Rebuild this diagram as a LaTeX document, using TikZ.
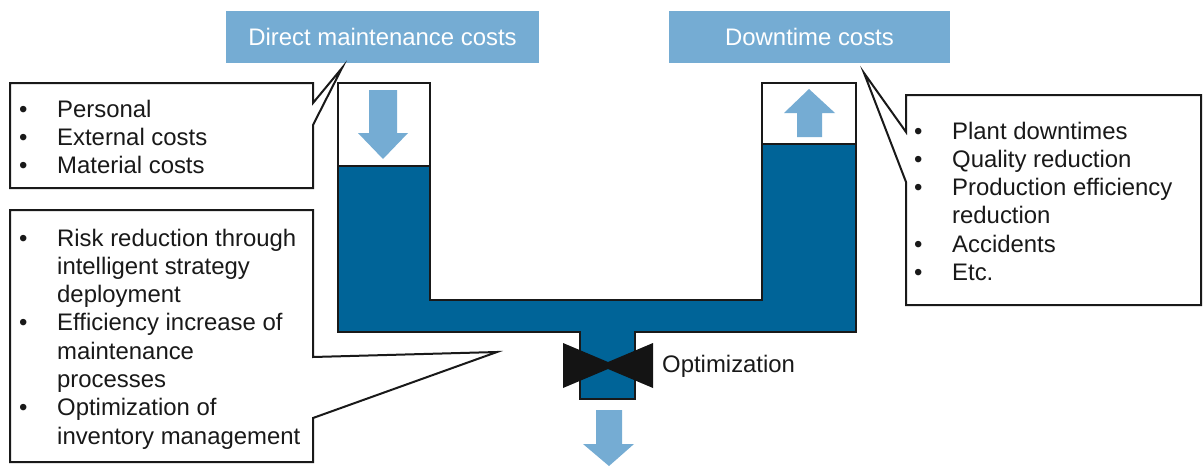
\documentclass[tikz,border=0pt]{standalone}
\usepackage{fontspec}
\setmainfont{Liberation Sans}
\usepackage{array}
\definecolor{lightblue}{RGB}{117,172,211}
\definecolor{pipeblue}{RGB}{0,100,152}
\definecolor{valveblack}{RGB}{20,20,20}
\tikzset{
  txt/.style={inner sep=0pt, font=\fontsize{23.9}{28.3}\selectfont, text=black!90},
  titlebox/.style={fill=lightblue, inner sep=0pt, font=\fontsize{23.9}{28.3}\selectfont, text=white},
  callout/.style={draw=black!90, line width=2pt, fill=white, line join=miter},
  pipe/.style={draw=black!90, line width=2.5pt, line join=miter},
  flowarrow/.style={fill=lightblue, draw=none},
}
\newcommand{\bulletlines}[1]{\begin{tabular}[t]{@{}p{38pt}@{}l@{}}#1\end{tabular}}
\begin{document}
\begin{tikzpicture}[x=1pt,y=-1pt]
\useasboundingbox (0,0) rectangle (1204,466);

% title boxes
\node[titlebox, minimum width=313pt, minimum height=52pt] (direct) at (382.5,37) {Direct maintenance costs};
\node[titlebox, minimum width=281pt, minimum height=52pt] (downtime) at (809.5,37) {Downtime costs};

% pipe (U shape with stem)
\draw[pipe, fill=white] (338,83) rectangle (430,166);
\draw[pipe, fill=white] (762,83) rectangle (856,144);
\draw[pipe, fill=pipeblue] (338,166) -- (338,332) -- (580,332) -- (580,399) -- (635,399) -- (635,332)
  -- (856,332) -- (856,144) -- (762,144) -- (762,300) -- (430,300) -- (430,166) -- cycle;

% valve
\fill[valveblack] (563,343) -- (608,362) -- (653,343) -- (653,388) -- (608,369) -- (563,388) -- cycle;
\node[txt, anchor=base west] (opt) at (662,372) {Optimization};

% flow arrows
\fill[flowarrow] (369,90) -- (397,90) -- (397,133) -- (408,133) -- (383,159) -- (358,133) -- (369,133) -- cycle;
\fill[flowarrow] (797,137) -- (822,137) -- (822,113) -- (835,113) -- (809,89) -- (784,113) -- (797,113) -- cycle;
\fill[flowarrow] (596,410) -- (622,410) -- (622,444) -- (634,444) -- (609,466) -- (583,444) -- (596,444) -- cycle;

% callout 1
\draw[callout] (10,83) -- (313,83) -- (313,103) -- (342,68) -- (313,125) -- (313,188) -- (10,188) -- cycle;
\node[txt, anchor=base west] (c1) at (19,117) {\bulletlines{• & Personal\\ • & External costs\\ • & Material costs}};

% callout 2
\draw[callout] (10,210) -- (313,210) -- (313,357) -- (497,352) -- (313,418) -- (313,462) -- (10,462) -- cycle;
\node[txt, anchor=base west] (c2) at (19,246) {\bulletlines{• & Risk reduction through\\ & intelligent strategy\\ & deployment\\ • & Efficiency increase of\\ & maintenance\\ & processes\\ • & Optimization of\\ & inventory management}};

% callout 3
\draw[callout] (906,95) -- (1201,95) -- (1201,305) -- (906,305) -- (906,182) -- (864,73) -- (906,132) -- cycle;
\node[txt, anchor=base west] (c3) at (914,139) {\bulletlines{• & Plant downtimes\\ • & Quality reduction\\ • & Production efficiency\\ & reduction\\ • & Accidents\\ • & Etc.}};
\end{tikzpicture}
\end{document}
